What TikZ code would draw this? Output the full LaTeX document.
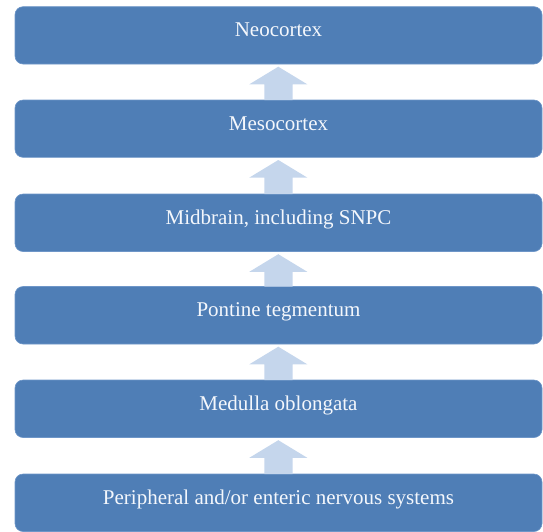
\documentclass[tikz,border=0pt]{standalone}
\usepackage{fontspec}
\setmainfont{Liberation Serif}
\definecolor{boxblue}{RGB}{79,126,182}
\definecolor{boxedge}{RGB}{110,150,200}
\definecolor{arrowblue}{RGB}{197,214,236}
\definecolor{boxtext}{RGB}{244,247,252}
\begin{document}
\begin{tikzpicture}[x=1pt,y=-1pt,
  levelbox/.style={fill=boxblue, draw=boxedge, line width=0.6pt, rounded corners=8pt},
  leveltext/.style={text=boxtext, font=\fontsize{21}{23}\selectfont, inner sep=0pt, anchor=base},
  uparrow/.style={fill=arrowblue, draw=none}]
\useasboundingbox (0,0) rectangle (543,531);
% boxes
\draw[levelbox] (15,6.7) rectangle (542,64);
\draw[levelbox] (15,100) rectangle (542,157.3);
\draw[levelbox] (15,194) rectangle (542,251.5);
\draw[levelbox] (15,286.5) rectangle (542,344);
\draw[levelbox] (15,380) rectangle (542,437.5);
\draw[levelbox] (15,474) rectangle (542,531.5);
% texts (baseline about 30 below box top)
\node[leveltext] (neo)  at (278.5,36.7)  {Neocortex};
\node[leveltext] (meso) at (278.5,130)   {Mesocortex};
\node[leveltext] (mid)  at (278.5,224)   {Midbrain, including SNPC};
\node[leveltext] (pons) at (278.5,316.5) {Pontine tegmentum};
\node[leveltext] (med)  at (278.5,410)   {Medulla oblongata};
\node[leveltext] (per)  at (278.5,504)   {Peripheral and/or enteric nervous systems};
% arrows
\foreach \up/\lo in {64/100, 157.3/194, 251.5/286.5, 344/380, 437.5/474}{
  \fill[uparrow] (264.3,\lo) -- (264.3,\up+20.3) -- (249.3,\up+20.3) -- (278.3,\up+2.7)
     -- (307.3,\up+20.3) -- (292.7,\up+20.3) -- (292.7,\lo) -- cycle;
}
\end{tikzpicture}
\end{document}
